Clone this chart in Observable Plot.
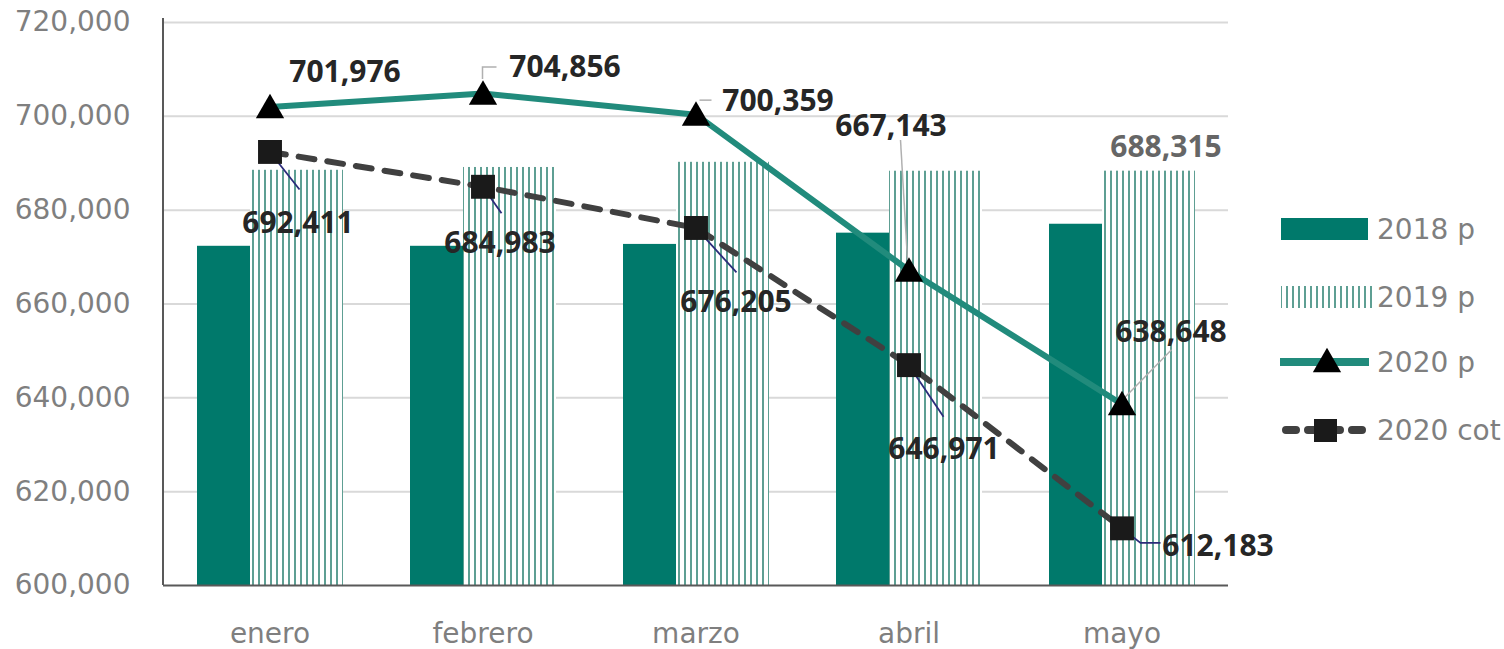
<!DOCTYPE html>
<html><head><meta charset="utf-8">
<script src="https://cdn.jsdelivr.net/npm/d3@7"></script>
<script src="https://cdn.jsdelivr.net/npm/@observablehq/plot@0.6"></script>
<style>
body{margin:0;background:#fff;}
#wrap{position:relative;width:1504px;height:649px;overflow:hidden;}
#legend{position:absolute;left:1280px;top:0;width:224px;height:649px;font-family:"DejaVu Sans",sans-serif;font-size:28px;color:#7f7f7f;}
.item{position:absolute;left:0;height:40px;display:flex;align-items:center;white-space:nowrap;}
.item svg{flex:none;}
</style></head><body>
<div id="wrap"><div id="chart"></div><div id="legend"></div></div>
<script>
// ---- data ----
const months   = ["enero", "febrero", "marzo", "abril", "mayo"];
const v2018    = [672300, 672300, 672700, 675100, 677000];
const v2019    = [688500, 689100, 690200, 688300, 688315];
const v2020p   = [701976, 704856, 700359, 667143, 638648];
const v2020cot = [692411, 684983, 676205, 646971, 612183];
const yTicks   = [600000, 620000, 640000, 660000, 680000, 700000, 720000];
const seriesNames = ["2018 p", "2019 p", "2020 p", "2020 cot"];

// ---- styling / label placement (pixel offsets, not data) ----
const C2018 = "#00796b", C2019 = "#5e9f93", CP = "#218b7c", CCOT = "#404040";
const pLabelOff   = [[75,-35],[82,-26],[82,-13],[-18,-144],[49,-72]];
const cotLabelOff = [[28,71],[17,57],[40,74],[35,84],[96,18]];
const pLeaders   = [null, [[0,-14],[0,-26],[14,-26]], [[4,-14],[16,-14]], [[-8,-130],[-1,-10]], [[3,-6],[50,-54]]];
const cotLeaders = [[[0,0],[30,38]], [[0,0],[19,27]], [[0,0],[41,45]], [[0,0],[35,52]], [[0,0],[19,15],[39,15]]];

const rows = months.map((m, i) => ({month: m, v2018: v2018[i], v2019: v2019[i], p: v2020p[i], cot: v2020cot[i]}));
const fmt = d3.format(",");

function leaders(vals, paths, color, width) {
  return (index, scales) => {
    const g = d3.create("svg:g");
    const bw = scales.x.bandwidth ? scales.x.bandwidth() : 0;
    months.forEach((m, i) => {
      const p = paths[i]; if (!p) return;
      const cx = scales.x(m) + bw / 2, cy = scales.y(vals[i]);
      g.append("path")
        .attr("d", "M" + p.map(([dx, dy]) => `${cx + dx},${cy + dy}`).join("L"))
        .attr("fill", "none").attr("stroke", color).attr("stroke-width", width);
    });
    return g.node();
  };
}
function leftAxisLine(index, scales, values, dims) {
  return d3.create("svg:line")
    .attr("x1", dims.marginLeft).attr("x2", dims.marginLeft)
    .attr("y1", dims.marginTop - 4).attr("y2", dims.height - dims.marginBottom)
    .attr("stroke", "#595959").attr("stroke-width", 2).node();
}

const labelStyle = {fontFamily: "Open Sans", fontWeight: "bold", fontSize: 30, fill: "#262626"};
const labelMarks = [];
rows.forEach((r, i) => {
  labelMarks.push(Plot.text([r], {x: "month", y: "p", text: d => fmt(d.p), dx: pLabelOff[i][0], dy: pLabelOff[i][1], ...labelStyle}));
  labelMarks.push(Plot.text([r], {x: "month", y: "cot", text: d => fmt(d.cot), dx: cotLabelOff[i][0], dy: cotLabelOff[i][1], ...labelStyle}));
});
labelMarks.push(Plot.text([rows[4]], {x: "month", y: "v2019", text: d => fmt(d.v2019), dx: 44, dy: -24, ...labelStyle, fill: "#666666"}));

const chart = Plot.plot({
  width: 1504, height: 649,
  marginLeft: 163, marginRight: 276, marginTop: 22, marginBottom: 64,
  style: {fontFamily: "DejaVu Sans", fontSize: "28px", color: "#7f7f7f", background: "#fff"},
  x: {type: "band", domain: months, padding: 0, tickSize: 0, tickPadding: 38, label: null},
  y: {domain: [600000, 720000], ticks: yTicks, tickSize: 0, tickPadding: 33, tickFormat: fmt, label: null},
  marks: [
    Plot.ruleY(yTicks.slice(1), {stroke: "#d9d9d9", strokeWidth: 2}),
    Plot.barY(rows, {x: "month", y1: 600000, y2: "v2018", insetLeft: 34, insetRight: 126, fill: C2018}),
    Plot.barY(rows, {x: "month", y1: 600000, y2: "v2019", insetLeft: 87, insetRight: 33, fill: "url(#stripes19)"}),
    Plot.ruleY([600000], {stroke: "#595959", strokeWidth: 2}),
    leftAxisLine,
    Plot.line(rows, {x: "month", y: "cot", stroke: CCOT, strokeWidth: 6, strokeDasharray: "16,13", strokeLinecap: "round"}),
    Plot.line(rows, {x: "month", y: "p", stroke: CP, strokeWidth: 6}),
    leaders(v2020cot, cotLeaders, "#2b2b7a", 1.8),
    leaders(v2020p, pLeaders, "#b0b0b0", 1.5),
    Plot.dot(rows, {x: "month", y: "cot", symbol: "square", r: 13.5, fill: "#1a1a1a"}),
    Plot.dot(rows, {x: "month", y: "p", symbol: "triangle", r: 10.5, fill: "#000", dy: 3}),
    ...labelMarks
  ]
});

// pattern for 2019 bars
const defs = d3.select(chart).insert("defs", ":first-child");
const pat = defs.append("pattern").attr("id", "stripes19").attr("patternUnits", "userSpaceOnUse")
  .attr("width", 6).attr("height", 10);
pat.append("rect").attr("width", 6).attr("height", 10).attr("fill", "#fff");
pat.append("rect").attr("x", 0).attr("width", 2).attr("height", 10).attr("fill", C2019);

document.getElementById("chart").appendChild(chart);

// legend
const legend = d3.select("#legend");
const centers = [229, 297, 362, 430];
seriesNames.forEach((name, i) => {
  const item = legend.append("div").attr("class", "item").style("top", (centers[i] - 20) + "px");
  const s = item.append("svg").attr("width", 97).attr("height", 40);
  if (i === 0) {
    s.append("rect").attr("x", 1).attr("y", 9).attr("width", 87).attr("height", 22).attr("fill", C2018);
  } else if (i === 1) {
    s.append("rect").attr("x", 1).attr("y", 9).attr("width", 94).attr("height", 22).attr("fill", "url(#stripes19)");
  } else if (i === 2) {
    s.append("line").attr("x1", 0).attr("x2", 89).attr("y1", 20).attr("y2", 20).attr("stroke", CP).attr("stroke-width", 8);
    s.append("path").attr("d", d3.symbol(d3.symbolTriangle, 346)()).attr("transform", "translate(47,22)").attr("fill", "#000");
  } else {
    s.append("line").attr("x1", 6).attr("x2", 84).attr("y1", 20).attr("y2", 20).attr("stroke", CCOT)
      .attr("stroke-width", 8).attr("stroke-dasharray", "10,12").attr("stroke-linecap", "round");
    s.append("rect").attr("x", 34).attr("y", 9).attr("width", 23).attr("height", 23).attr("fill", "#1a1a1a");
  }
  item.append("span").text(name);
});
</script>
</body></html>
